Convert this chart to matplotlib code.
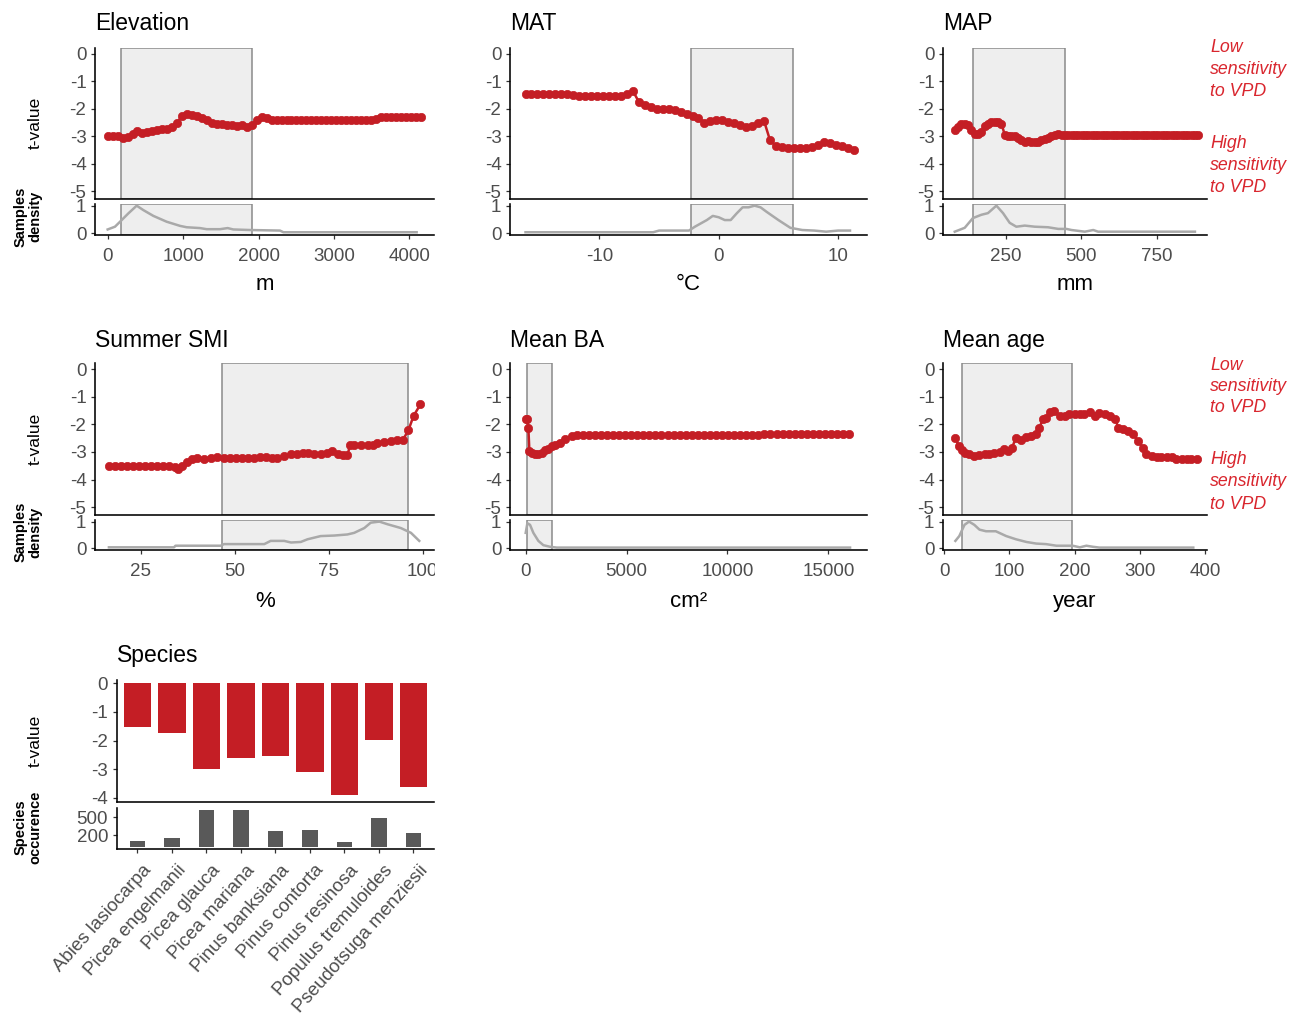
import numpy as np
import matplotlib
matplotlib.use("Agg")
import matplotlib.pyplot as plt
from matplotlib.transforms import Bbox, TransformedBbox, ScaledTranslation

plt.rcParams["font.family"] = ["Liberation Sans", "DejaVu Sans"]
plt.rcParams["axes.unicode_minus"] = False

# ---------------------------------------------------------------- data
# Elevation (m)
elev_x = np.linspace(0, 4150, 64)
elev_t = [-3.0, -3.0, -3.0, -3.05, -3.02, -2.9, -2.82, -2.88, -2.85, -2.8,
          -2.78, -2.75, -2.72, -2.65, -2.5, -2.25, -2.2, -2.22, -2.25, -2.32,
          -2.42, -2.5, -2.55, -2.57, -2.6, -2.6, -2.62, -2.6, -2.65, -2.6,
          -2.4, -2.3, -2.35] + [-2.4] * 21 + [-2.38] + [-2.3] * 9
elev_dens_x = [0, 97, 164, 274, 385, 473, 606, 782, 959, 1047, 1224, 1313,
               1490, 1591, 1666, 1887, 2285, 2330, 4097]
elev_dens = [0.14, 0.24, 0.42, 0.72, 1.0, 0.84, 0.63, 0.42, 0.27, 0.22, 0.19,
             0.15, 0.15, 0.19, 0.14, 0.12, 0.1, 0.04, 0.04]
elev_band = (172, 1918)

# Mean annual temperature (°C)
mat_x = np.linspace(-16.2, 11.3, 56)
mat_t = [-1.48, -1.48, -1.48, -1.48, -1.48, -1.48, -1.48, -1.48, -1.5, -1.53,
         -1.55, -1.55, -1.55, -1.55, -1.55, -1.55, -1.52, -1.45, -1.35, -1.75,
         -1.88, -1.95, -2.0, -2.0, -2.0, -2.05, -2.12, -2.2, -2.27, -2.35,
         -2.5, -2.45, -2.4, -2.4, -2.47, -2.52, -2.58, -2.65, -2.62, -2.5,
         -2.45, -3.15, -3.35, -3.4, -3.42, -3.42, -3.42, -3.42, -3.4, -3.3,
         -3.2, -3.25, -3.3, -3.35, -3.42, -3.5]
mat_dens_x = [-16.2, -5.5, -5.0, -2.5, -2.0, -1.0, -0.5, 0.0, 0.5, 1.0, 1.5,
              2.0, 2.5, 3.0, 3.5, 4.0, 5.0, 6.0, 7.0, 8.0, 9.0, 10.0, 11.0]
mat_dens = [0.04, 0.04, 0.1, 0.1, 0.24, 0.48, 0.63, 0.58, 0.48, 0.48, 0.72,
            0.94, 0.94, 1.0, 0.94, 0.78, 0.48, 0.2, 0.12, 0.1, 0.06, 0.1, 0.1]
mat_band = (-2.3, 6.2)

# Mean annual precipitation (mm)
map_x = np.linspace(81, 888, 74)
map_t = [-2.78, -2.65, -2.57, -2.57, -2.6, -2.78, -2.9, -2.9, -2.83, -2.63,
         -2.57, -2.48, -2.48, -2.48, -2.55, -2.95, -3.0, -3.0, -3.0, -3.07,
         -3.13, -3.2, -3.17, -3.2, -3.2, -3.2, -3.13, -3.1, -3.07, -3.0,
         -2.95, -2.93] + [-2.95] * 42
map_dens_x = [81, 114, 141, 169, 191, 219, 241, 263, 285, 313, 346, 390, 424,
              451, 468, 512, 540, 556, 877]
map_dens = [0.06, 0.2, 0.55, 0.67, 0.73, 1.0, 0.73, 0.38, 0.24, 0.28, 0.24,
            0.22, 0.16, 0.16, 0.12, 0.06, 0.12, 0.06, 0.06]
map_band = (141, 448)

# Summer soil moisture index (%)
smi_x = [16.6, 18.2, 19.8, 21.4, 23.0, 24.6, 26.2, 27.8, 29.4, 31.0, 32.6,
         34.2, 35.0, 36.1, 37.4, 38.8, 40.1, 41.9, 43.7, 45.4, 47.2, 48.8,
         50.4, 52.0, 53.6, 55.2, 56.8, 58.4, 60.0, 61.4, 63.2, 65.0, 66.7,
         68.1, 69.4, 71.2, 72.9, 74.7, 76.0, 77.4, 78.7, 80.0, 80.7, 81.8,
         83.6, 85.4, 86.7, 88.0, 89.8, 91.6, 93.3, 94.7, 96.2, 97.6, 99.4]
smi_t = [-3.51, -3.51, -3.51, -3.51, -3.51, -3.51, -3.51, -3.51, -3.51, -3.51,
         -3.51, -3.55, -3.6, -3.49, -3.37, -3.27, -3.21, -3.25, -3.21, -3.17,
         -3.21, -3.2, -3.2, -3.2, -3.2, -3.2, -3.18, -3.17, -3.2, -3.21,
         -3.15, -3.09, -3.09, -3.03, -3.05, -3.09, -3.09, -3.03, -2.97, -3.09,
         -3.12, -3.12, -2.76, -2.76, -2.76, -2.76, -2.76, -2.69, -2.64, -2.6,
         -2.57, -2.57, -2.22, -1.69, -1.28]
smi_dens_x = [16.6, 33.9, 34.3, 46.3, 47.2, 57.9, 59.6, 63.2, 65.0, 67.6, 69.4,
              72.9, 76.5, 80.0, 81.8, 84.5, 86.2, 88.5, 90.7, 94.2, 96.9, 99.1]
smi_dens = [0.04, 0.04, 0.1, 0.1, 0.16, 0.16, 0.28, 0.28, 0.22, 0.24, 0.34,
            0.46, 0.48, 0.52, 0.58, 0.76, 0.96, 1.0, 0.9, 0.76, 0.58, 0.28]
smi_band = (46.6, 96.2)

# Mean basal area (cm²)
ba_x = ([20, 83, 132, 182, 297, 463, 628, 793, 958, 1123, 1289, 1454, 1702,
         1949, 2280, 2528] + list(np.arange(2830, 11231, 300))
        + [11530] + list(np.arange(11830, 16231, 300)))
ba_t = ([-1.79, -1.82, -2.12, -2.96, -3.03, -3.06, -3.09, -3.03, -2.94, -2.88,
         -2.79, -2.76, -2.67, -2.52, -2.42, -2.4] + [-2.4] * 29
        + [-2.37] + [-2.35] * 15)
ba_dens_x = [0, 83, 215, 380, 628, 876, 1206, 1536, 16075]
ba_dens = [0.58, 0.94, 0.88, 0.58, 0.28, 0.12, 0.06, 0.03, 0.03]
ba_band = (83, 1322)

# Mean stand age (year)
age_x = [17, 22, 27, 32, 38, 46, 54, 62, 69, 77, 85, 91, 97, 104, 110, 118,
         126, 133, 141, 146, 151, 156, 162, 169, 177, 185, 192, 200, 208, 215,
         223, 231, 238, 246, 254, 262, 267, 274, 282, 290, 297, 305, 310, 318,
         326, 333, 341, 349, 356, 364, 372, 379, 387]
age_t = [-2.5, -2.78, -2.94, -3.03, -3.09, -3.15, -3.11, -3.09, -3.09, -3.05,
         -3.0, -2.9, -2.96, -2.84, -2.48, -2.56, -2.44, -2.42, -2.36, -2.12,
         -1.82, -1.76, -1.55, -1.52, -1.7, -1.7, -1.64, -1.61, -1.61, -1.61,
         -1.55, -1.7, -1.6, -1.61, -1.7, -1.79, -2.12, -2.18, -2.24, -2.36,
         -2.6, -2.84, -3.09, -3.15, -3.17, -3.17, -3.17, -3.17, -3.27, -3.27,
         -3.27, -3.27, -3.27]
age_dens_x = [17, 23, 31, 38, 46, 54, 64, 79, 95, 110, 126, 141, 156, 172, 197,
              208, 218, 228, 238, 382]
age_dens = [0.28, 0.46, 0.88, 1.0, 0.88, 0.7, 0.64, 0.64, 0.46, 0.34, 0.24,
            0.18, 0.16, 0.1, 0.1, 0.04, 0.1, 0.06, 0.03, 0.03]
age_band = (26.7, 196.4)

# Species
species = ["Abies lasiocarpa", "Picea engelmanii", "Picea glauca",
           "Picea mariana", "Pinus banksiana", "Pinus contorta",
           "Pinus resinosa", "Populus tremuloides", "Pseudotsuga menziesii"]
species_t = [-1.52, -1.75, -3.0, -2.6, -2.55, -3.11, -3.9, -1.98, -3.62]
species_n = [95, 150, 616, 616, 263, 290, 75, 482, 239]

# ---------------------------------------------------------------- style
W, H = 1295, 1026
RED = "#C41E25"
NOTE_RED = "#D9262E"
BAND_FACE = "#EEEEEE"
BAND_EDGE = "#8A8A8A"
DENS_GREY = "#A9A9A9"
TICK_TXT = "#4D4D4D"

fig = plt.figure(figsize=(W / 100, H / 100), dpi=100)


def px_rect(x0, y0, x1, y1):
    return [x0 / W, 1 - y1 / H, (x1 - x0) / W, (y1 - y0) / H]


def ftext(x, y, s, **kw):
    return fig.text(x / W, 1 - y / H, s, **kw)


def style(ax):
    for s in ("top", "right"):
        ax.spines[s].set_visible(False)
    for s in ("left", "bottom"):
        ax.spines[s].set_linewidth(1.15)
        ax.spines[s].set_color("black")
    ax.tick_params(colors="#333333", labelcolor=TICK_TXT, labelsize=13.5,
                   length=3.2, width=0.9, pad=3)
    ax.tick_params(axis="x", pad=6.5)


COLS = [(95, 434.3), (510, 866.7), (943, 1206.7)]
ROWS = [(47.7, 199, 204, 235), (363, 515, 520, 550)]

panels = [
    ("Elevation", "m", elev_x, elev_t, elev_dens_x, elev_dens, elev_band,
     (-168, 4331), [0, 1000, 2000, 3000, 4000], 0, 0),
    ("MAT", "°C", mat_x, mat_t, mat_dens_x, mat_dens, mat_band,
     (-17.5, 12.4), [-10, 0, 10], 1, 0),
    ("MAP", "mm", map_x, map_t, map_dens_x, map_dens, map_band,
     (42, 916), [250, 500, 750], 2, 0),
    ("Summer SMI", "%", smi_x, smi_t, smi_dens_x, smi_dens, smi_band,
     (12.9, 103.1), [25, 50, 75, 100], 0, 1),
    ("Mean BA", "cm²", ba_x, ba_t, ba_dens_x, ba_dens, ba_band,
     (-778, 16900), [0, 5000, 10000, 15000], 1, 1),
    ("Mean age", "year", age_x, age_t, age_dens_x, age_dens, age_band,
     (-2, 402.6), [0, 100, 200, 300, 400], 2, 1),
]

title_base = [30, 346.7]
xlab_base = [290, 606.7]

for (title, unit, x, t, dx, dd, band, xlim, xticks, c, r) in panels:
    x0, x1 = COLS[c]
    ty0, ty1, by0, by1 = ROWS[r]

    top = fig.add_axes(px_rect(x0, ty0, x1, ty1))
    style(top)
    top.axvspan(band[0], band[1], facecolor=BAND_FACE, edgecolor=BAND_EDGE,
                lw=1.1, zorder=0)
    top.plot(x, t, "-", color=RED, lw=1.8, zorder=2)
    top.plot(x, t, "o", color=RED, ms=6.0, mec=RED, mew=0.5, zorder=3)
    top.set_xlim(*xlim)
    top.set_ylim(-5.28, 0.22)
    top.set_yticks([0, -1, -2, -3, -4, -5], ["0", "-1", "-2", "-3", "-4", "-5"])
    top.set_xticks([])

    bot = fig.add_axes(px_rect(x0, by0, x1, by1))
    style(bot)
    bot.axvspan(band[0], band[1], facecolor=BAND_FACE, edgecolor=BAND_EDGE,
                lw=1.1, zorder=0)
    bot.plot(dx, dd, color=DENS_GREY, lw=1.8, zorder=2)
    bot.set_xlim(*xlim)
    bot.set_ylim(-0.06, 1.06)
    bot.set_yticks([0, 1], ["0", "1"])
    bot.set_xticks(xticks, [str(v) for v in xticks])
    if title == "Summer SMI":
        # the last tick label is cut at the panel's right edge
        clip = TransformedBbox(Bbox.from_extents(0, 0, (x1 + 0.5) / W, 1),
                               fig.transFigure)
        for lab in bot.xaxis.get_majorticklabels():
            lab.set_clip_box(clip)
            lab.set_clip_on(True)

    ftext(x0, title_base[r], title, fontsize=16.5, va="baseline", ha="left",
          color="black")
    ftext((x0 + x1) / 2, xlab_base[r], unit, fontsize=16, va="baseline",
          ha="center", color="black")

    if c == 0:
        ftext(35, (ty0 + ty1) / 2, "t-value", rotation=90, fontsize=12.5,
              ha="center", va="center")
        ftext(28, (by0 + by1) / 2 - 3, "Samples\ndensity", rotation=90,
              fontsize=10.5, fontweight="bold", ha="center", va="center",
              multialignment="center", linespacing=1.1)

# sensitivity notes on the right of each row
for r, ys in enumerate([(48, 70, 91.5, 143.5, 165.5, 188),
                        (365, 386.5, 408, 459.5, 481.5, 504.5)]):
    words = ["Low", "sensitivity", "to VPD", "High", "sensitivity", "to VPD"]
    for w, y in zip(words, ys):
        ftext(1210, y, w, fontsize=12.8, style="italic", color=NOTE_RED,
              ha="left", va="center")

# ---------------------------------------------------------------- species
pos = np.arange(len(species))
sp_top = fig.add_axes(px_rect(116.7, 680, 434, 801.7))
style(sp_top)
sp_top.bar(pos, species_t, width=0.8, color=RED, zorder=2)
sp_top.set_xlim(-0.6, len(species) - 0.4)
sp_top.set_ylim(-4.14, 0.12)
sp_top.set_yticks([0, -1, -2, -3, -4], ["0", "-1", "-2", "-3", "-4"])
sp_top.set_xticks([])

sp_bot = fig.add_axes(px_rect(116.7, 808, 434, 849))
style(sp_bot)
sp_bot.bar(pos, species_n, width=0.45, color="#595959", zorder=2)
sp_bot.set_xlim(-0.6, len(species) - 0.4)
sp_bot.set_ylim(-35, 655)
sp_bot.set_yticks([200, 500], ["200", "500"])
sp_bot.set_xticks(pos, species, rotation=48, ha="right", va="top",
                  rotation_mode="anchor", fontsize=13.5)
sp_bot.tick_params(axis="x", pad=6)
shift = ScaledTranslation(5 / 100, 0, fig.dpi_scale_trans)
for lab in sp_bot.get_xticklabels():
    lab.set_transform(lab.get_transform() + shift)

ftext(117, 661.7, "Species", fontsize=16.5, va="baseline", ha="left")
ftext(35.5, 741, "t-value", rotation=90, fontsize=12.5, ha="center",
      va="center")
ftext(28, 827, "Species\noccurence", rotation=90, fontsize=10.5,
      fontweight="bold", ha="center", va="center", multialignment="center",
      linespacing=1.1)

fig.savefig("out.png", dpi=100, facecolor="white")
